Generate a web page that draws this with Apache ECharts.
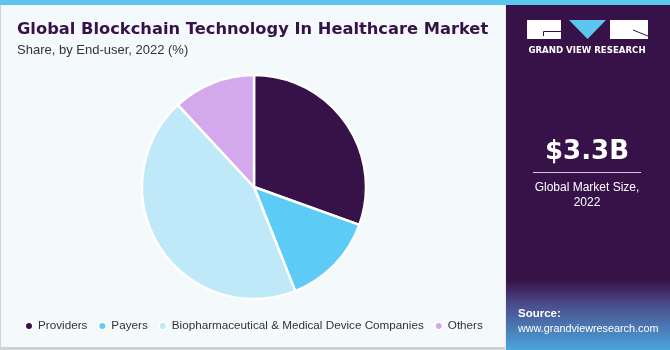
<!DOCTYPE html>
<html>
<head>
<meta charset="utf-8">
<script src="https://cdn.jsdelivr.net/npm/echarts@6/dist/echarts.min.js"></script>
<style>
  html, body { margin: 0; padding: 0; background: #f4f9fc; }
  #main { width: 670px; height: 350px; }
</style>
</head>
<body>
<div id="main"></div>
<script>
// share by end-user, 2022 (%)
var endUsers = ['Providers', 'Payers', 'Biopharmaceutical & Medical Device Companies', 'Others'];
var shares = [30.5, 13.5, 44.1, 11.9];
var sliceColors = ['#371248', '#5ccbf5', '#bfe9f9', '#d4a8ec'];

var marketSize = '$3.3B';
var marketLabel = 'Global Market Size,\n2022';

var myChart = echarts.init(document.getElementById('main'));

var pieData = endUsers.map(function (name, i) {
    return { name: name, value: shares[i], itemStyle: { color: sliceColors[i] } };
});

var option = {
    backgroundColor: '#f4f9fc',
    animation: false,
    title: [
        {
            text: 'Global Blockchain Technology In Healthcare Market',
            left: 12,
            top: 17,
            textStyle: { fontFamily: 'DejaVu Sans', fontWeight: 'bold', fontSize: 16.3, color: '#371248' }
        },
        {
            text: 'Share, by End-user, 2022 (%)',
            left: 12,
            top: 39,
            textStyle: { fontFamily: 'Liberation Sans', fontWeight: 'normal', fontSize: 13, color: '#333333' }
        }
    ],
    legend: {
        left: 19,
        top: 315,
        icon: 'circle',
        itemWidth: 8,
        itemHeight: 8,
        itemGap: 10,
        textStyle: { fontFamily: 'Liberation Sans', fontSize: 11.7, color: '#333333' },
        data: endUsers
    },
    graphic: [
        // top bar
        { type: 'rect', shape: { x: 0, y: 0, width: 670, height: 5 }, style: { fill: '#5cc6ef' }, z: 10 },
        // left & bottom border
        { type: 'rect', shape: { x: 0, y: 5, width: 1, height: 345 }, style: { fill: '#cfd3d6' } },
        { type: 'rect', shape: { x: 0, y: 347, width: 506, height: 3 }, style: { fill: '#cfd3d6' } },
        // right panel
        { type: 'rect', shape: { x: 505, y: 5, width: 1, height: 345 }, style: { fill: '#e6ecf2' } },
        { type: 'rect', shape: { x: 506, y: 5, width: 164, height: 345 }, style: { fill: '#371248' } },
        {
            type: 'rect', shape: { x: 506, y: 280, width: 164, height: 70 },
            style: {
                fill: {
                    type: 'linear', x: 0, y: 0, x2: 0, y2: 1,
                    colorStops: [
                        { offset: 0, color: '#371248' },
                        { offset: 0.35, color: '#4b4c8c' },
                        { offset: 1, color: '#4aa6dc' }
                    ]
                }
            }
        },
        // logo
        { type: 'rect', shape: { x: 527, y: 20, width: 34, height: 19 }, style: { fill: '#ffffff' } },
        { type: 'polyline', shape: { points: [[543.5, 36], [543.5, 31.5], [561, 31.5]] }, style: { stroke: '#371248', lineWidth: 1, fill: null } },
        { type: 'polygon', shape: { points: [[569, 20], [606, 20], [587.5, 39]] }, style: { fill: '#5cc6ef' } },
        { type: 'rect', shape: { x: 610, y: 20, width: 38, height: 19 }, style: { fill: '#ffffff' } },
        { type: 'polyline', shape: { points: [[633, 30], [648, 36]] }, style: { stroke: '#371248', lineWidth: 1 } },
        {
            type: 'text', x: 587, y: 51,
            style: { text: 'GRAND VIEW RESEARCH', fill: '#ffffff', font: 'bold 8.6px "DejaVu Sans"', align: 'center', verticalAlign: 'middle' }
        },
        // market size
        {
            type: 'text', x: 587, y: 152,
            style: { text: marketSize, fill: '#ffffff', font: 'bold 26px "DejaVu Sans"', align: 'center', verticalAlign: 'middle' }
        },
        { type: 'rect', shape: { x: 533, y: 172, width: 108, height: 1 }, style: { fill: '#d6c8e0' } },
        {
            type: 'text', x: 587, y: 180,
            style: { text: marketLabel, fill: '#ffffff', font: '12px "Liberation Sans"', align: 'center', verticalAlign: 'top', lineHeight: 15 }
        },
        // source
        {
            type: 'text', x: 518, y: 314,
            style: { text: 'Source:', fill: '#ffffff', font: 'bold 11.5px "Liberation Sans"', verticalAlign: 'middle' }
        },
        {
            type: 'text', x: 518, y: 329,
            style: { text: 'www.grandviewresearch.com', fill: '#ffffff', font: '10.8px "Liberation Sans"', verticalAlign: 'middle' }
        }
    ],
    series: [
        {
            type: 'pie',
            center: [254, 187],
            radius: [0, 112],
            startAngle: 90,
            clockwise: true,
            label: { show: false },
            labelLine: { show: false },
            itemStyle: { borderColor: '#ffffff', borderWidth: 2.5 },
            emphasis: { disabled: true },
            data: pieData
        }
    ]
};

myChart.setOption(option, true);
</script>
</body>
</html>
